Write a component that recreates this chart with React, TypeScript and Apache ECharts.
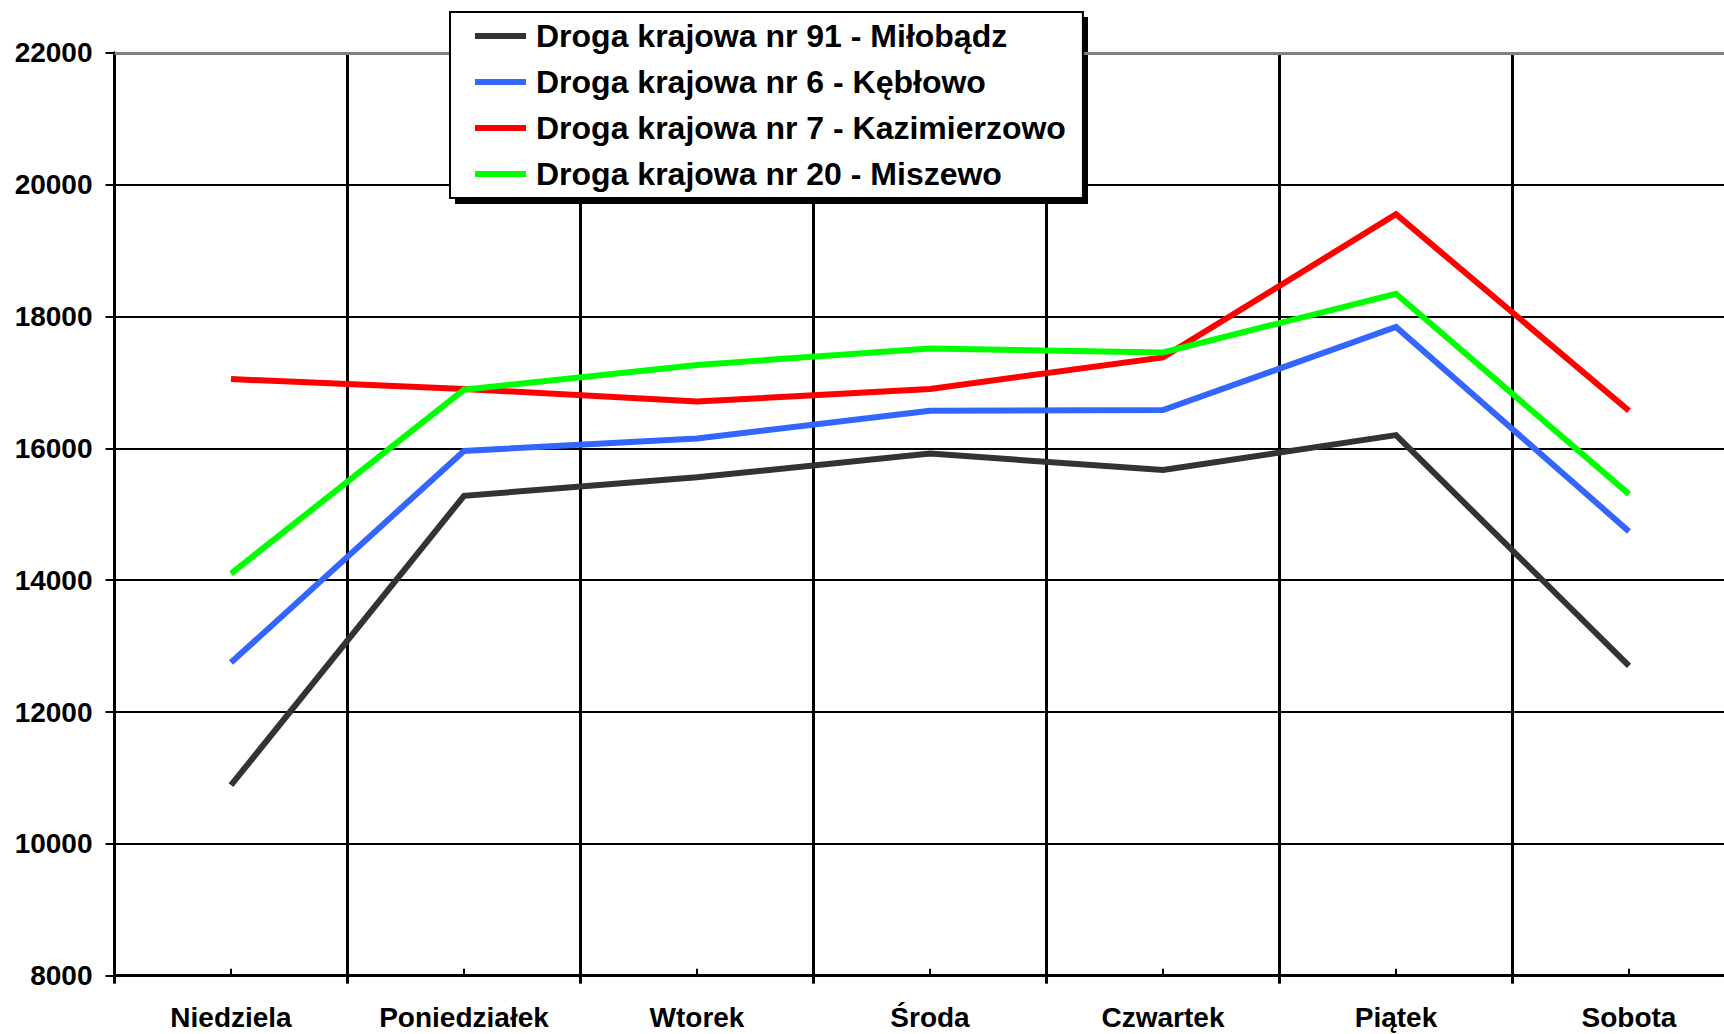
import React, { useEffect, useRef } from "react";
import * as echarts from "echarts";

const categories = ["Niedziela", "Poniedziałek", "Wtorek", "Środa", "Czwartek", "Piątek", "Sobota"];
const seriesNames = [
  "Droga krajowa nr 91 - Miłobądz",
  "Droga krajowa nr 6 - Kębłowo",
  "Droga krajowa nr 7 - Kazimierzowo",
  "Droga krajowa nr 20 - Miszewo",
];
const miloBadz = [10890, 15280, 15560, 15920, 15670, 16200, 12700];
const keblowo = [12750, 15960, 16150, 16570, 16580, 17840, 14740];
const kazimierzowo = [17050, 16900, 16710, 16900, 17380, 19550, 16570];
const miszewo = [14100, 16890, 17265, 17515, 17455, 18345, 15305];
const seriesValues = [miloBadz, keblowo, kazimierzowo, miszewo];
const seriesColors = ["#333333", "#3366ff", "#ff0000", "#00ff00"];
const yMin = 8000;
const yMax = 22000;
const yStep = 2000;

const FONT = "'Liberation Sans', Arial, sans-serif";
const CHART_W = 1746;
const CHART_H = 1034;

export default function App() {
  const ref = useRef<HTMLDivElement>(null);
  useEffect(() => {
    if (!ref.current) return;
    const chart = echarts.init(ref.current, undefined, { renderer: "svg" });
    const series: any[] = seriesValues.map((vals, i) => ({
      name: seriesNames[i],
      type: "line",
      data: vals,
      xAxisIndex: 0,
      yAxisIndex: 0,
      symbol: "none",
      showSymbol: false,
      color: seriesColors[i],
      itemStyle: { color: seriesColors[i] },
      lineStyle: { color: seriesColors[i], width: 6, join: "miter" },
      z: 3 + i,
      markLine:
        i === 0
          ? {
              silent: true,
              symbol: ["none", "none"],
              label: { show: false },
              lineStyle: { color: "#808080", width: 3, type: "solid" },
              data: [{ yAxis: yMax }],
              z: 2,
            }
          : undefined,
    }));
    chart.setOption({
      animation: false,
      backgroundColor: "#ffffff",
      grid: { left: 114.5, right: 0.5, top: 52.8, bottom: 58.3, containLabel: false },
      graphic: [
        {
          type: "rect",
          z: 1,
          zlevel: 0,
          shape: { x: 455, y: 17, width: 633, height: 187 },
          style: { fill: "#000000" },
        },
      ],
      legend: {
        show: true,
        orient: "vertical",
        left: 450,
        top: 12,
        z: 10,
        padding: [8, 17, 8, 25],
        itemGap: 14,
        itemWidth: 56,
        itemHeight: 6,
        icon: "path://M0,0H51V6H0Z M55.99,0H56V6H55.99Z",
        itemStyle: { borderWidth: 0 },
        backgroundColor: "#ffffff",
        borderColor: "#000000",
        borderWidth: 2,
        borderRadius: 0,
        textStyle: {
          fontFamily: FONT,
          fontWeight: "bold",
          fontSize: 32,
          lineHeight: 32,
          color: "#000000",
        },
        data: seriesNames,
      },
      xAxis: [
        {
          type: "category",
          data: categories,
          position: "bottom",
          boundaryGap: true,
          axisLine: { show: true, onZero: false, lineStyle: { color: "#000", width: 3 } },
          axisTick: { show: true, inside: false, length: 8, lineStyle: { color: "#000", width: 3 } },
          axisLabel: {
            show: true,
            margin: 28,
            fontFamily: FONT,
            fontWeight: "bold",
            fontSize: 28,
            lineHeight: 28,
            color: "#000",
          },
          splitLine: { show: true, lineStyle: { color: "#000", width: 3 } },
        },
        {
          type: "category",
          data: categories,
          position: "bottom",
          boundaryGap: true,
          axisLine: { show: false, onZero: false },
          axisTick: {
            show: true,
            alignWithLabel: true,
            inside: true,
            length: 7,
            lineStyle: { color: "#000", width: 2 },
          },
          axisLabel: { show: false },
          splitLine: { show: false },
        },
      ],
      yAxis: {
        type: "value",
        min: yMin,
        max: yMax,
        interval: yStep,
        axisLine: { show: true, onZero: false, lineStyle: { color: "#000", width: 3 } },
        axisTick: { show: true, inside: false, length: 9, lineStyle: { color: "#000", width: 2 } },
        axisLabel: {
          margin: 22,
          fontFamily: FONT,
          fontWeight: "bold",
          fontSize: 28,
          color: "#000",
          formatter: (v: number) => String(v),
        },
        splitLine: { show: true, lineStyle: { color: "#000", width: 2 } },
      },
      series,
    });
    return () => chart.dispose();
  }, []);
  return (
    <div
      style={{
        position: "absolute",
        left: 0,
        top: 0,
        width: 1724,
        height: 1034,
        overflow: "hidden",
        background: "#fff",
      }}
    >
      <div ref={ref} style={{ width: CHART_W, height: CHART_H }} />
    </div>
  );
}
